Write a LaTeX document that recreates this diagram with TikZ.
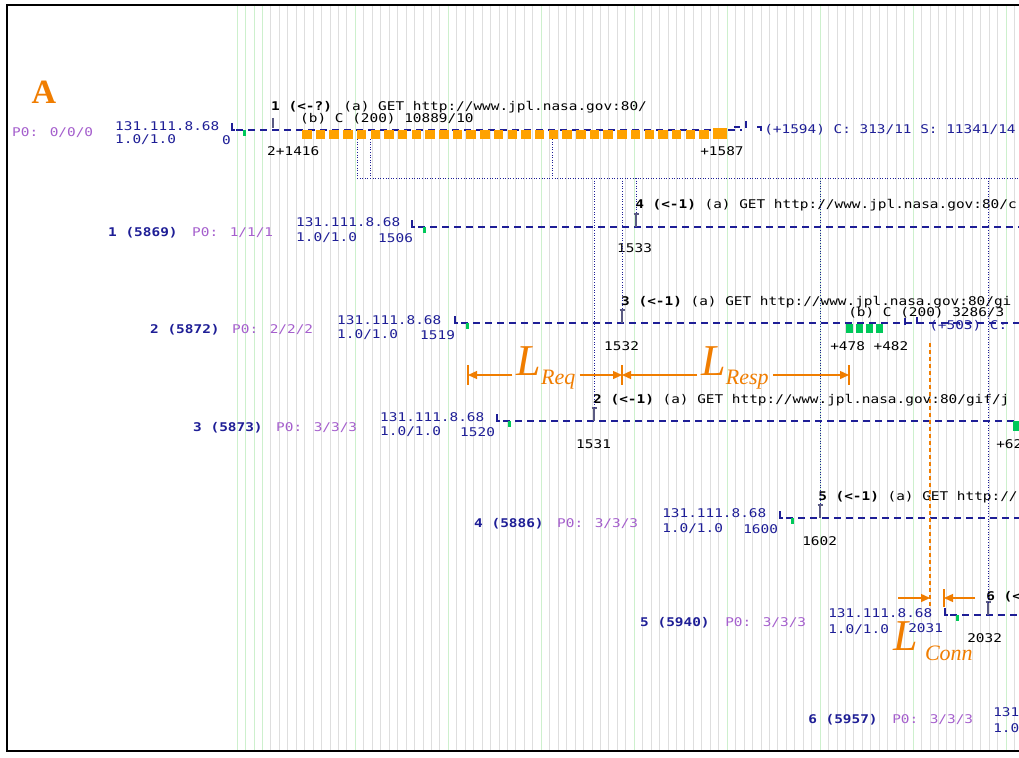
\documentclass[tikz,border=0pt]{standalone}
\usepackage{fontspec}
\usepackage{xcolor}
\usepackage{tikz}
\usetikzlibrary{arrows.meta, calc}
\newfontfamily\pixfont{DejaVu Sans Mono}
\newfontfamily\annfont{Liberation Serif}
\definecolor{navy}{RGB}{30,30,150}
\definecolor{plum}{RGB}{165,95,205}
\definecolor{annot}{RGB}{240,125,0}
\definecolor{barfill}{RGB}{255,162,0}
\definecolor{markgreen}{RGB}{0,200,90}
\definecolor{gridgray}{RGB}{222,222,222}
\definecolor{gridgreen}{RGB}{205,240,205}
\definecolor{reqgray}{RGB}{90,90,130}

\begin{document}
\begin{tikzpicture}[
  x=1pt, y=-1pt,
  pix/.style={font=\pixfont\fontsize{12}{13}\selectfont, inner sep=0pt, anchor=west, xscale=1.2},
  conn/.style={pix, text=navy},
  rowlabel/.style={pix, text=navy, font=\pixfont\bfseries\fontsize{12}{13}\selectfont},
  ptag/.style={pix, text=plum},
  req/.style={pix, text=black},
  trace/.style={navy, line width=2.2pt, dash pattern=on 7pt off 5pt},
  link/.style={navy, line width=0.8pt, dash pattern=on 1pt off 1.6pt},
  guide/.style={annot, line width=1.2pt, dash pattern=on 4pt off 3pt},
  dim/.style={annot, line width=1.4pt, -{Triangle[length=9pt,width=8pt]}},
  dimtick/.style={annot, line width=1.4pt},
  dimlabel/.style={text=annot, inner sep=4pt, font=\annfont\itshape\fontsize{44}{44}\selectfont},
  reqbar/.style={reqgray, line width=2pt}
]
\useasboundingbox (0,0) rectangle (1019,757);
\clip (0,0) rectangle (1019,757);
\fill[white] (0,0) rectangle (1019,757);

% time grid
\foreach \i in {0,...,92} {
  \pgfmathtruncatemacro{\g}{mod(\i,11)==3 || \i<4}
  \ifnum\g=1
    \draw[gridgreen, line width=0.8pt] ({237+8.45*\i},5) -- ++(0,746);
  \else
    \draw[gridgray, line width=0.8pt] ({237+8.45*\i},5) -- ++(0,746);
  \fi
}
\draw[black, line width=1.2pt] (1020,5) -- (7,5) -- (7,751) -- (1020,751);

\node[text=annot, inner sep=0pt, font=\annfont\bfseries\fontsize{34}{34}\selectfont] (panel) at (44,92) {A};

% connection 0
\node[ptag] (p0) at (12,133) {P0: 0/0/0};
\node[conn] (ip0) at (115,126) {131.111.8.68};
\node[conn] (ver0) at (115,140) {1.0/1.0};
\node[conn] (t0) at (222,140) {0};
\draw[trace] (236,130) -- (742,130);
\foreach \x in {302,315.7,...,700} {
  \fill[barfill] (\x,130) rectangle ++(9.5,9);
}
\fill[barfill] (713,128) rectangle (727,139);
\node[req] (q1) at (271,107) {\textbf{1 (<-?)} (a) GET http://www.jpl.nasa.gov:80/};
\node[req] (b1) at (300,119) {(b) C (200) 10889/10};
\node[req] (s1) at (267,151) {2+1416};
\node[req] (e1) at (700,151) {+1587};
\draw[navy, line width=1.5pt] (734,127) -- (740,127);
\draw[navy, line width=1.5pt] (746,121) -- (746,128);
\draw[navy, line width=1.2pt] (757,127) -- (761,127) -- (761,131);
\node[conn] (sum0) at (764,130) {(+1594) C: 313/11 S: 11341/14};
\draw[reqgray, line width=2pt] (273,118) -- (273,128);

% connection 1
\node[rowlabel] (c1) at (108,233) {1 (5869)};
\node[ptag] (p1) at (192,233) {P0: 1/1/1};
\node[conn] (ip1) at (296,222) {131.111.8.68};
\node[conn] (ver1) at (296,238) {1.0/1.0};
\node[conn] (t1) at (378,238) {1506};
\draw[trace] (418,227) -- (1019,227);
\node[req] (q4) at (635,205) {\textbf{4 (<-1)} (a) GET http://www.jpl.nasa.gov:80/c};
\node[req] (s4) at (617,248) {1533};

% connection 2
\node[rowlabel] (c2) at (150,330) {2 (5872)};
\node[ptag] (p2) at (232,330) {P0: 2/2/2};
\node[conn] (ip2) at (337,320) {131.111.8.68};
\node[conn] (ver2) at (337,335) {1.0/1.0};
\node[conn] (t2) at (420,335) {1519};
\draw[trace] (461,323) -- (1019,323);
\node[req] (q3) at (621,302) {\textbf{3 (<-1)} (a) GET http://www.jpl.nasa.gov:80/gi};
\node[req] (b3) at (848,313) {(b) C (200) 3286/3};
\foreach \x in {846,856,866,876} {
  \fill[markgreen] (\x,324) rectangle ++(7,9);
}
\draw[navy, line width=1.5pt] (905,318) -- (905,325);
\draw[navy, line width=1.5pt] (917,317) -- (917,324);
\node[conn] (sum2) at (929,326) {(+503) C:};
\node[req] (s3) at (604,346) {1532};
\node[req] (e3) at (830,346) {+478 +482};

% connection 3
\node[rowlabel] (c3) at (193,428) {3 (5873)};
\node[ptag] (p3) at (276,428) {P0: 3/3/3};
\node[conn] (ip3) at (380,417) {131.111.8.68};
\node[conn] (ver3) at (380,432) {1.0/1.0};
\node[conn] (t3) at (460,432) {1520};
\draw[trace] (503,421) -- (1019,421);
\node[req] (q2) at (593,400) {\textbf{2 (<-1)} (a) GET http://www.jpl.nasa.gov:80/gif/j};
\node[req] (s2) at (576,444) {1531};
\node[req] (e2) at (996,444) {+62};
\fill[markgreen] (1013,421) rectangle ++(6,10);

% connection 4
\node[rowlabel] (c4) at (474,524) {4 (5886)};
\node[ptag] (p4) at (557,524) {P0: 3/3/3};
\node[conn] (ip4) at (662,513) {131.111.8.68};
\node[conn] (ver4) at (662,529) {1.0/1.0};
\node[conn] (t4) at (743,529) {1600};
\draw[trace] (786,518) -- (1019,518);
\node[req] (q5) at (818,497) {\textbf{5 (<-1)} (a) GET http://};
\node[req] (s5) at (802,541) {1602};

% connection 5
\node[rowlabel] (c5) at (640,623) {5 (5940)};
\node[ptag] (p5) at (725,623) {P0: 3/3/3};
\node[conn] (ip5) at (828,613) {131.111.8.68};
\node[conn] (ver5) at (828,630) {1.0/1.0};
\node[conn] (t5) at (908,628) {2031};
\draw[trace] (950,615) -- (1019,615);
\node[req] (q6) at (986,597) {\textbf{6 (<}};
\node[req] (s6) at (967,638) {2032};

% connection 6
\node[rowlabel] (c6) at (808,720) {6 (5957)};
\node[ptag] (p6) at (892,720) {P0: 3/3/3};
\node[conn] (ip6) at (993,712) {131};
\node[conn] (ver6) at (993,728) {1.0};

% connection start marks
\foreach \x/\y in {232/130, 412/227, 455/323, 497/421, 780/518, 945/615} {
  \draw[navy, line width=1.5pt] (\x,\y-7) -- (\x,\y) -- (\x+3,\y);
  \fill[markgreen] (\x+11,\y) rectangle ++(3,6);
}

% request marks
\coordinate (r4) at (636,214);
\coordinate (r3) at (622,310);
\coordinate (r2) at (594,408);
\coordinate (r5) at (820,505);
\coordinate (r6) at (988,602);
\foreach \m in {r4,r3,r2,r5,r6} {
  \draw[reqbar] (\m) -- ++(0,13);
  \draw[reqbar, line width=1.2pt] ($(\m)+(-2.5,0)$) -- ($(\m)+(2.5,0)$);
}

% dependency links
\coordinate (bus) at (357,178);
\coordinate (d1) at (357,139);
\coordinate (d2) at (370,139);
\coordinate (d3) at (552,139);
\draw[link] (d1) -- (bus) -- (1019,178);
\draw[link] (d2) -- (d2 |- bus);
\draw[link] (d3) -- (d3 |- bus);
\foreach \m in {r4,r3,r2,r5,r6} {
  \draw[link] (\m |- bus) -- (\m);
}

% latency annotations
\coordinate (la) at (468,375);
\coordinate (lb) at (622,375);
\coordinate (lc) at (849,375);
\foreach \m in {la,lb,lc} {
  \draw[dimtick] ($(\m)+(0,-10)$) -- ($(\m)+(0,10)$);
}
\node[dimlabel] (lreq) at (546,368) {L\raisebox{-9pt}{\fontsize{22}{22}\selectfont Req}};
\node[dimlabel] (lresp) at (735,368) {L\raisebox{-9pt}{\fontsize{22}{22}\selectfont Resp}};
\draw[dim] (lreq.west |- la) -- (la);
\draw[dim] (lreq.east |- lb) -- (lb);
\draw[dim] (lresp.west |- lb) -- (lb);
\draw[dim] (lresp.east |- lc) -- (lc);

\coordinate (ga) at (930,343);
\coordinate (gb) at (930,606);
\draw[guide] (ga) -- (gb);
\coordinate (ca) at (898,598);
\coordinate (cb) at (975,598);
\coordinate (cc) at (944,598);
\draw[dimtick] ($(cc)+(0,-9)$) -- ($(cc)+(0,9)$);
\draw[dim] (ca) -- (ca -| ga);
\draw[dim] (cb) -- (cc);
\node[dimlabel, anchor=west, inner sep=0pt] (lconn) at (893,641) {L\,\raisebox{-10pt}{\fontsize{22}{22}\selectfont Conn}};
\end{tikzpicture}
\end{document}
